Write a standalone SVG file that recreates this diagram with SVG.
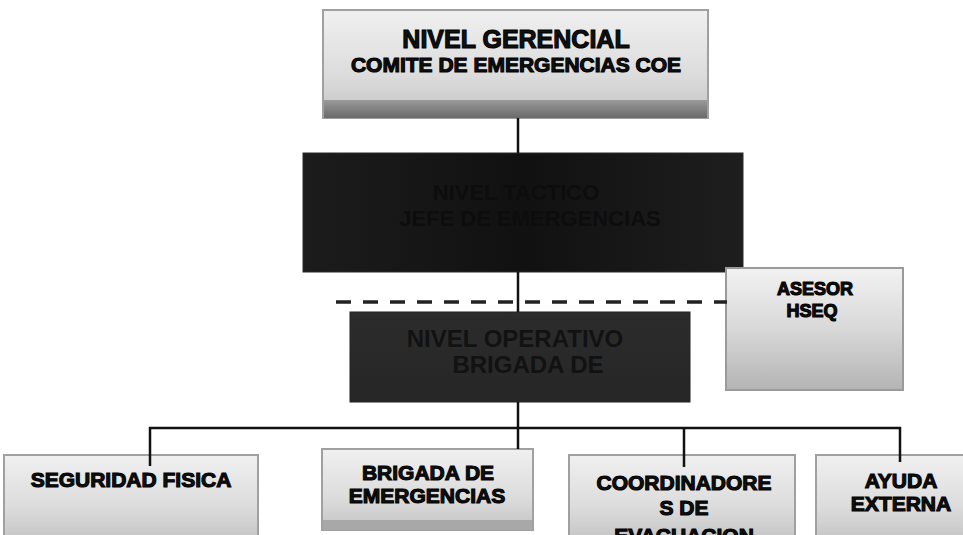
<svg xmlns="http://www.w3.org/2000/svg" width="963" height="535" viewBox="0 0 963 535">
<defs>
<linearGradient id="lightG" x1="0" y1="0" x2="0" y2="1">
<stop offset="0" stop-color="#f0f0f0"/>
<stop offset="0.6" stop-color="#dcdcdc"/>
<stop offset="1" stop-color="#c4c4c4"/>
</linearGradient>
<linearGradient id="hseqG" x1="0" y1="0" x2="0" y2="1">
<stop offset="0" stop-color="#f2f2f2"/>
<stop offset="0.5" stop-color="#d8d8d8"/>
<stop offset="1" stop-color="#b4b4b4"/>
</linearGradient>
<linearGradient id="bandG" x1="0" y1="0" x2="0" y2="1">
<stop offset="0" stop-color="#9a9a9a"/>
<stop offset="1" stop-color="#6a6a6a"/>
</linearGradient>
<linearGradient id="darkG" x1="0" y1="0" x2="1" y2="0">
<stop offset="0" stop-color="#1c1c1c"/>
<stop offset="0.5" stop-color="#111111"/>
<stop offset="1" stop-color="#1e1e1e"/>
</linearGradient>
<linearGradient id="dark2G" x1="0" y1="0" x2="0" y2="1">
<stop offset="0" stop-color="#2c2c2c"/>
<stop offset="1" stop-color="#262626"/>
</linearGradient>
</defs>
<style>
.box{fill:url(#lightG);stroke:#a0a0a0;stroke-width:2}
.t{font-family:"Liberation Sans",Arial,sans-serif;font-weight:bold;fill:#111;stroke:#000;stroke-width:1.1;text-anchor:middle}
.dt{font-family:"Liberation Sans",Arial,sans-serif;font-weight:bold;text-anchor:middle}
.ln{stroke:#111;stroke-width:2.5;fill:none}
</style>
<rect width="963" height="535" fill="#ffffff"/>

<g id="nivel-gerencial">
<rect class="box" x="323" y="10" width="385" height="108"/>
<rect x="324" y="100" width="383" height="18" fill="url(#bandG)"/>
<text class="t" x="516" y="48" font-size="25">NIVEL GERENCIAL</text>
<text class="t" x="516" y="72" font-size="21">COMITE DE EMERGENCIAS COE</text>
</g>

<g id="nivel-tactico">
<rect x="303" y="153" width="440" height="119" fill="url(#darkG)" stroke="#2a2a2a" stroke-width="1"/>
<text class="dt" x="516" y="200" font-size="22" fill="#0d0d0d">NIVEL TACTICO</text>
<text class="dt" x="530" y="226" font-size="22" fill="#0d0d0d">JEFE DE EMERGENCIAS</text>
</g>

<g id="asesor-hseq">
<rect x="726" y="268" width="177" height="122" fill="url(#hseqG)" stroke="#9a9a9a" stroke-width="2"/>
<text class="t" x="815" y="295" font-size="18">ASESOR</text>
<text class="t" x="812" y="317" font-size="18">HSEQ</text>
</g>

<g id="nivel-operativo">
<rect x="350" y="312" width="340" height="90" fill="url(#dark2G)" stroke="#222" stroke-width="1"/>
<text class="dt" x="515" y="347" font-size="24" fill="#121212">NIVEL OPERATIVO</text>
<text class="dt" x="528" y="373" font-size="24" fill="#121212">BRIGADA DE</text>
</g>

<g id="seguridad-fisica">
<rect class="box" x="4" y="455" width="254" height="86"/>
<text class="t" x="131" y="487" font-size="21">SEGURIDAD FISICA</text>
</g>

<g id="brigada-emergencias">
<rect class="box" x="322" y="449" width="211" height="81"/>
<rect x="323" y="520" width="209" height="10" fill="#a8a8a8"/>
<text class="t" x="428" y="480" font-size="21">BRIGADA DE</text>
<text class="t" x="427" y="503" font-size="21">EMERGENCIAS</text>
</g>

<g id="coordinadores">
<rect class="box" x="569" y="455" width="226" height="86"/>
<text class="t" x="684" y="490" font-size="21">COORDINADORE</text>
<text class="t" x="684" y="515" font-size="21">S DE</text>
<text class="t" x="684" y="543" font-size="21">EVACUACION</text>
</g>

<g id="ayuda-externa">
<rect class="box" x="816" y="455" width="152" height="86"/>
<text class="t" x="901" y="488" font-size="21">AYUDA</text>
<text class="t" x="901" y="511" font-size="21">EXTERNA</text>
</g>

<g id="connectors">
<line class="ln" x1="518" y1="118" x2="518" y2="153"/>
<line class="ln" x1="518" y1="272" x2="518" y2="312"/>
<line x1="336" y1="302" x2="727" y2="302" stroke="#222" stroke-width="3.5" stroke-dasharray="15 12"/>
<line class="ln" x1="518" y1="402" x2="518" y2="428"/>
<polyline class="ln" points="150,466 150,428 900,428 900,462"/>
<line class="ln" x1="518" y1="428" x2="518" y2="449"/>
<line class="ln" x1="684" y1="428" x2="684" y2="467"/>
</g>
</svg>
